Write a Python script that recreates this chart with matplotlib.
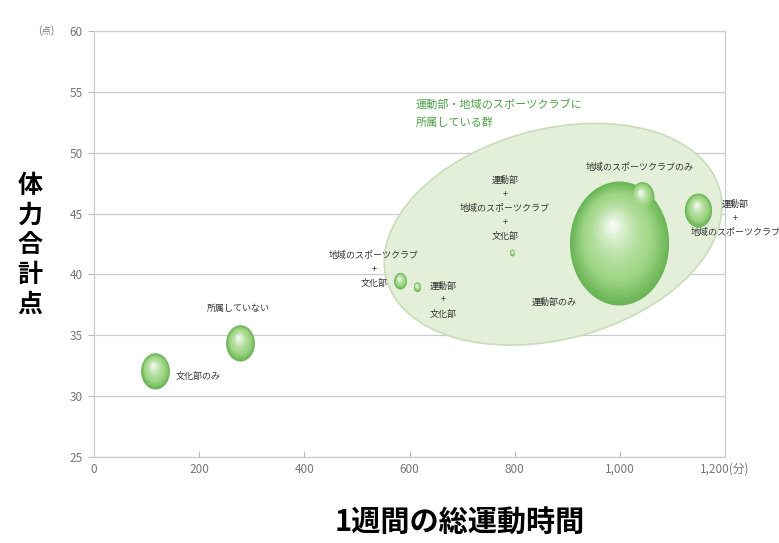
import numpy as np
import matplotlib.pyplot as plt
from matplotlib.patches import Ellipse
from matplotlib.path import Path
from matplotlib.markers import MarkerStyle
from matplotlib import transforms

plt.rcParams['font.family'] = ['Noto Sans CJK JP', 'DejaVu Sans']

# data
groups = ["文化部のみ", "所属していない", "地域のスポーツクラブ\n+\n文化部", "運動部\n+\n文化部",
          "運動部のみ", "地域のスポーツクラブのみ", "運動部\n+\n地域のスポーツクラブ",
          "運動部\n+\n地域のスポーツクラブ\n+\n文化部"]
minutes = [116, 278, 582, 614, 999, 1042, 1149, 795]
scores = [32.1, 34.4, 39.5, 39.0, 42.6, 46.4, 45.3, 41.8]
bubble_h = [36, 36, 16, 9, 124, 30, 34, 6]   # bubble height, px

x_ticks = [0, 200, 400, 600, 800, 1000, 1200]
x_labels = ["0", "200", "400", "600", "800", "1,000", "1,200(分)"]
y_ticks = [25, 30, 35, 40, 45, 50, 55, 60]

fig = plt.figure(figsize=(7.79, 5.43), dpi=100)
ax = fig.add_axes([94 / 779, 1 - 457 / 543, 631 / 779, 426 / 543])
ax.set_xlim(0, 1200)
ax.set_ylim(25, 60)

# group ellipse (drawn in inches around a data point)
gtrans = fig.dpi_scale_trans + transforms.ScaledTranslation(873, 43.3, ax.transData)
ax.add_patch(Ellipse((0, 0), 3.45, 2.1, angle=15, transform=gtrans,
                     facecolor="#e4efd9", edgecolor="#c9dcb8", lw=1.2, zorder=1))

# elliptical bubble marker
t = np.linspace(0, 2 * np.pi, 80)
ell = MarkerStyle(Path(np.column_stack([0.4 * np.cos(t), 0.5 * np.sin(t)]), closed=True))

edge = np.array([0.42, 0.71, 0.34])
mid = np.array([0.63, 0.84, 0.53])
white = np.array([1.0, 1.0, 1.0])
nl = 22
for x, y, h in zip(minutes, scores, bubble_h):
    hp = h * 0.72
    for i in range(nl):
        f = 1 - i / nl
        u = 1 - f
        if u < 0.3:
            c = edge + (mid - edge) * (u / 0.3)
        else:
            c = mid + (white - mid) * ((u - 0.3) / 0.7) ** 1.4
        tr = transforms.offset_copy(ax.transData, fig=fig, x=-u * hp * 0.06,
                                    y=u * hp * 0.16, units='points')
        ax.scatter([x], [y], s=(hp * f) ** 2, marker=ell, color=c, lw=0,
                   transform=tr, zorder=3 + i * 0.01)

# labels
tk = dict(fontsize=6.5, color="#333333", ha="center", va="center", zorder=5, linespacing=1.7)
ax.text(156, 31.6, groups[0], **dict(tk, ha="left"))
ax.text(275, 37.2, groups[1], **tk)
ax.text(532, 40.4, groups[2], **tk)
ax.text(664, 37.9, groups[3], **tk)
ax.text(875, 37.7, groups[4], **tk)
ax.text(1037, 48.8, groups[5], **tk)
ax.text(1220, 44.6, groups[6], clip_on=False, **tk)
ax.text(781, 45.4, groups[7], **tk)
ax.text(612, 53.2, "運動部・地域のスポーツクラブに\n所属している群", fontsize=8,
        color="#4fa14a", ha="left", va="center", linespacing=1.9, zorder=5)

# axes styling
ax.set_xticks(x_ticks)
ax.set_xticklabels(x_labels)
ax.set_yticks(y_ticks)
ax.tick_params(colors="#aaaaaa", labelcolor="#777777", labelsize=8.5, length=4, width=0.6)
ax.tick_params(axis="x", direction="in", pad=4)
ax.tick_params(axis="y", direction="out", pad=4)
ax.grid(axis="y", color="#cccccc", lw=0.9)
ax.set_axisbelow(True)
for s in ax.spines.values():
    s.set_color("#cccccc")
    s.set_linewidth(0.9)
ax.text(-0.075, 1.0, "(点)", transform=ax.transAxes, fontsize=7, color="#777777",
        ha="center", va="center")

fig.text(30 / 779, 1 - 245 / 543, "体\n力\n合\n計\n点", fontsize=18, fontweight="bold",
         ha="center", va="center", linespacing=1.3)
fig.text(460 / 779, 1 - 523 / 543, "1週間の総運動時間", fontsize=21, fontweight="bold",
         ha="center", va="center")

fig.savefig("out.png", dpi=100)
